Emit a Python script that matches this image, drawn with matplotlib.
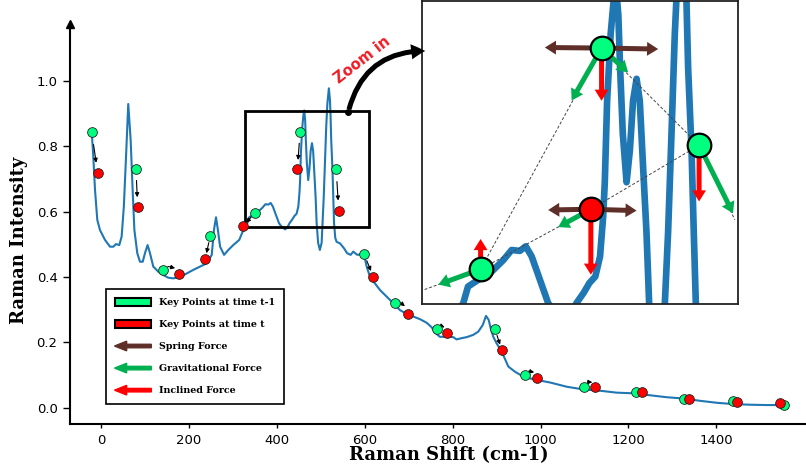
import numpy as np
import matplotlib
matplotlib.use('Agg')
import matplotlib.pyplot as plt
from matplotlib.patches import Patch, FancyArrow, FancyArrowPatch, Rectangle, ArrowStyle
from matplotlib.legend_handler import HandlerPatch

# spectrum
spec_x = [-21, -17.5, -13.6, -8.4, -2.3, 9, 20.5, 28, 34, 41.6, 47, 52, 57, 62, 67.5, 72, 76,
          82.6, 88.7, 95, 100, 106, 111.5, 119, 130, 142, 153, 164.5, 180, 195, 210, 225, 240.5,
          252, 257, 261.7, 266, 271, 280, 289.7, 301, 314.7, 325, 333, 337, 344, 356, 367, 374,
          381, 386, 391, 397, 402, 405, 411, 419, 424, 429, 435, 440, 445, 449, 451.6, 453, 455,
          458, 460.5, 462.5, 464.5, 466, 468.3, 471.5, 474.3, 477, 480, 482.7, 485.5, 488.4,
          490.6, 494, 498, 502, 504, 506.7, 509.6, 512.4, 515, 518.5, 521, 522.3, 523.7, 526.6,
          528.5, 530.2, 533, 536, 544, 553, 560, 568, 574, 583, 598, 604.5, 612, 623, 635, 650,
          665, 680, 695.6, 710.6, 725.8, 741, 752.5, 760, 771, 786.6, 801.6, 809, 820.7, 832,
          847, 858.5, 868.5, 876, 882, 886.7, 892.6, 900, 911.7, 926.7, 942, 961, 984, 1022,
          1060, 1097, 1135, 1173, 1211, 1249, 1287, 1325, 1363, 1401, 1439, 1477, 1515, 1560]
spec_y = [0.843, 0.769, 0.667, 0.575, 0.544, 0.514, 0.493, 0.493, 0.501, 0.498, 0.524, 0.616,
          0.769, 0.930, 0.820, 0.667, 0.544, 0.473, 0.447, 0.447, 0.473, 0.498, 0.473, 0.432,
          0.417, 0.406, 0.398, 0.396, 0.401, 0.411, 0.422, 0.432, 0.442, 0.468, 0.544, 0.583,
          0.544, 0.493, 0.468, 0.483, 0.498, 0.514, 0.548, 0.565, 0.583, 0.589, 0.598, 0.612,
          0.623, 0.622, 0.627, 0.616, 0.594, 0.576, 0.565, 0.554, 0.546, 0.552, 0.565, 0.576,
          0.587, 0.594, 0.616, 0.659, 0.696, 0.786, 0.859, 0.895, 0.910, 0.880, 0.822, 0.750,
          0.697, 0.732, 0.786, 0.810, 0.786, 0.714, 0.642, 0.566, 0.505, 0.483, 0.505, 0.566,
          0.642, 0.750, 0.859, 0.930, 0.978, 0.940, 0.895, 0.822, 0.732, 0.642, 0.566, 0.520,
          0.508, 0.503, 0.488, 0.473, 0.468, 0.478, 0.468, 0.471, 0.432, 0.401, 0.381, 0.360,
          0.340, 0.320, 0.299, 0.287, 0.279, 0.271, 0.260, 0.246, 0.230, 0.217, 0.217, 0.216,
          0.209, 0.213, 0.216, 0.223, 0.233, 0.253, 0.281, 0.269, 0.243, 0.217, 0.197, 0.172,
          0.126, 0.110, 0.095, 0.087, 0.077, 0.064, 0.056, 0.052, 0.046, 0.044, 0.038, 0.032,
          0.028, 0.021, 0.015, 0.011, 0.009, 0.008, 0.008]

# key points at time t-1 (green) and t (red)
prev_x = [-21, 79.6, 141, 248.8, 350, 453, 535, 598.4, 669, 764, 896.5, 964.7, 1099.7, 1216.6, 1326.5, 1439, 1554]
prev_y = [0.843, 0.730, 0.421, 0.527, 0.597, 0.844, 0.731, 0.471, 0.320, 0.240, 0.240, 0.099, 0.064, 0.047, 0.028, 0.020, 0.008]
curr_x = [-7.5, 83.5, 178, 237, 324, 446.7, 541, 619.6, 699, 788, 911.7, 992.7, 1124, 1230, 1337, 1446, 1545]
curr_y = [0.719, 0.616, 0.409, 0.455, 0.556, 0.730, 0.602, 0.401, 0.287, 0.228, 0.177, 0.091, 0.062, 0.047, 0.028, 0.017, 0.014]

zoom_box = (327, 610, 0.553, 0.910)        # x0, x1, y0, y1 of the region shown in the inset
inset_lims = (298, 566, 0.564, 0.895)

# inset: illustrative key points and forces
node_x = [347.7, 441.2, 450.3, 533.0]
node_y = [0.602, 0.6675, 0.8436, 0.7374]
node_state = ['t-1', 't', 't-1', 't-1']
spring_node = [2, 2, 1, 1]
spring_x = [402.2, 498.3, 405.0, 480.0]
spring_y = [0.8442, 0.8425, 0.6667, 0.6660]
grav_node = [0, 1, 2, 2, 3]
grav_x = [311.8, 413.5, 424.9, 472.8, 561.8]
grav_y = [0.5852, 0.6480, 0.7863, 0.8170, 0.6630]
incl_node = [0, 1, 2, 3]
incl_x = [347.7, 441.2, 450.3, 533.0]
incl_y = [0.635, 0.596, 0.786, 0.676]
link1_x = [296.3, 347.7, 441.2, 533.0]
link1_y = [0.578, 0.602, 0.6675, 0.7374]
link2_x = [347.7, 450.3, 533.0, 563.3]
link2_y = [0.602, 0.8436, 0.7374, 0.656]

labels = ['Key Points at time t-1', 'Key Points at time t', 'Spring Force',
          'Gravitational Force', 'Inclined Force']

BLUE = '#1f77b4'
LIGHT = '#00FF7F'
RED = '#FF0000'
BROWN = '#5E2F28'
GREEN = '#00B050'
state_color = {'t-1': LIGHT, 't': RED}

fig = plt.figure(figsize=(8.06, 4.69), dpi=100)
W, H = 806, 469
ax = fig.add_axes([70 / W, 45 / H, 736 / W, 400 / H])

ax.plot(spec_x, spec_y, color=BLUE, lw=1.5, zorder=2)
ax.add_patch(Rectangle((zoom_box[0], zoom_box[2]), zoom_box[1] - zoom_box[0],
                       zoom_box[3] - zoom_box[2], fill=False, lw=2, ec='k', zorder=3))
ax.plot(prev_x, prev_y, 'o', ms=7, mfc=LIGHT, mec='#222222', mew=0.6, zorder=5, ls='none')
ax.plot(curr_x, curr_y, 'o', ms=7, mfc=RED, mec='#222222', mew=0.6, zorder=6, ls='none')

ax.set_xlim(-70.5, 1604)
ax.set_ylim(-0.05, 1.175)
ax.set_xticks(np.arange(0, 1401, 200))
ax.set_yticks(np.arange(0, 1.01, 0.2))
for s in ['top', 'right']:
    ax.spines[s].set_visible(False)
for s in ['left', 'bottom']:
    ax.spines[s].set_linewidth(1.5)
ax.tick_params(axis='y', length=5, width=1, labelsize=9.5, pad=4)
ax.tick_params(axis='x', length=3, width=1, labelsize=9.5, pad=4)
ax.plot(0, 1, marker='^', ms=6, color='k', transform=ax.transAxes, clip_on=False)

ax.set_ylabel('Raman Intensity', family='DejaVu Serif', fontweight='bold', fontsize=13)
ax.yaxis.set_label_coords(-0.057, 0.46)
ax.set_xlabel('Raman Shift (cm-1)', family='DejaVu Serif', fontweight='bold', fontsize=13)
ax.xaxis.set_label_coords(0.515, -0.055)

# small motion arrows between the two time steps
for gx, gy, rx, ry in zip(prev_x, prev_y, curr_x, curr_y):
    p0 = ax.transData.transform((gx, gy))
    p1 = ax.transData.transform((rx, ry))
    d = p1 - p0
    if np.hypot(*d) < 9:
        continue
    off = np.array([0, 5.0]) if abs(d[0]) > abs(d[1]) else np.zeros(2)
    a = p0 + 0.3 * d + off
    b = p0 + 0.75 * d + off
    ax.annotate('', xy=b, xytext=a, xycoords='figure pixels', textcoords='figure pixels',
                arrowprops=dict(arrowstyle='-|>', mutation_scale=6, lw=0.8, color='k',
                                shrinkA=0, shrinkB=0), zorder=4)


def arrow_handle(legend, orig_handle, xdescent, ydescent, width, height, fontsize):
    return FancyArrow(width - xdescent, 0.5 * height - ydescent, -width, 0,
                      width=0.4 * height, head_width=1.1 * height, head_length=0.33 * width,
                      length_includes_head=True)


handles = [Patch(fc=LIGHT, ec='k', lw=1.5), Patch(fc=RED, ec='k', lw=1.5),
           FancyArrow(0, 0, 1, 0, color=BROWN), FancyArrow(0, 0, 1, 0, color=GREEN),
           FancyArrow(0, 0, 1, 0, color=RED)]
leg = ax.legend(handles, labels, loc='upper left', bbox_to_anchor=(106 / W, 1 - 289 / H),
                bbox_transform=fig.transFigure, borderaxespad=0, fancybox=False,
                edgecolor='k', framealpha=1,
                prop={'family': 'DejaVu Serif', 'weight': 'bold', 'size': 6.8},
                handlelength=3.9, handleheight=1.05, handletextpad=0.85, labelspacing=1.32,
                borderpad=0.9, handler_map={FancyArrow: HandlerPatch(patch_func=arrow_handle)})
leg.get_frame().set_linewidth(1.2)

# inset
axin = fig.add_axes([422 / W, 165 / H, 316 / W, 303 / H])
axin.plot(spec_x, spec_y, color=BLUE, lw=4.8, solid_joinstyle='round', solid_capstyle='round', zorder=2)
axin.plot(link1_x, link1_y, color='#444444', lw=0.7, ls=(0, (3, 2)), zorder=3)
axin.plot(link2_x, link2_y, color='#444444', lw=0.7, ls=(0, (3, 2)), zorder=3)
axin.set_xlim(inset_lims[0], inset_lims[1])
axin.set_ylim(inset_lims[2], inset_lims[3])
axin.set_xticks([])
axin.set_yticks([])
for s in axin.spines.values():
    s.set_linewidth(1.3)
    s.set_color('#222222')

force_style = ArrowStyle.Simple(head_length=8, head_width=10, tail_width=3.6)
for idx, tx, ty, c in ([(i, x, y, BROWN) for i, x, y in zip(spring_node, spring_x, spring_y)]
                       + [(i, x, y, GREEN) for i, x, y in zip(grav_node, grav_x, grav_y)]
                       + [(i, x, y, RED) for i, x, y in zip(incl_node, incl_x, incl_y)]):
    axin.add_patch(FancyArrowPatch((node_x[idx], node_y[idx]), (tx, ty), arrowstyle=force_style,
                                   mutation_scale=1, color=c, lw=0, shrinkA=0, shrinkB=0, zorder=4))
for x, y, st in zip(node_x, node_y, node_state):
    axin.plot(x, y, 'o', ms=17, mfc=state_color[st], mec='k', mew=1.6, zorder=6)

# zoom annotation
fig.text(0.450, 0.872, 'Zoom in', rotation=38, color='#EE1C25', fontweight='bold', fontsize=10.5,
         ha='center', va='center')
start = (348.3 / W, 1 - 112 / H)
fig.add_artist(FancyArrowPatch(start, (428 / W, 1 - 51 / H),
                               transform=fig.transFigure, connectionstyle='arc3,rad=-0.4',
                               arrowstyle=ArrowStyle.Simple(head_length=10, head_width=11, tail_width=3.6),
                               mutation_scale=1, color='k', lw=0, zorder=10))
fig.add_artist(plt.Line2D([start[0]], [start[1]], marker='o', ms=4, color='k',
                          transform=fig.transFigure, zorder=10))

fig.savefig('out.png', dpi=100)
